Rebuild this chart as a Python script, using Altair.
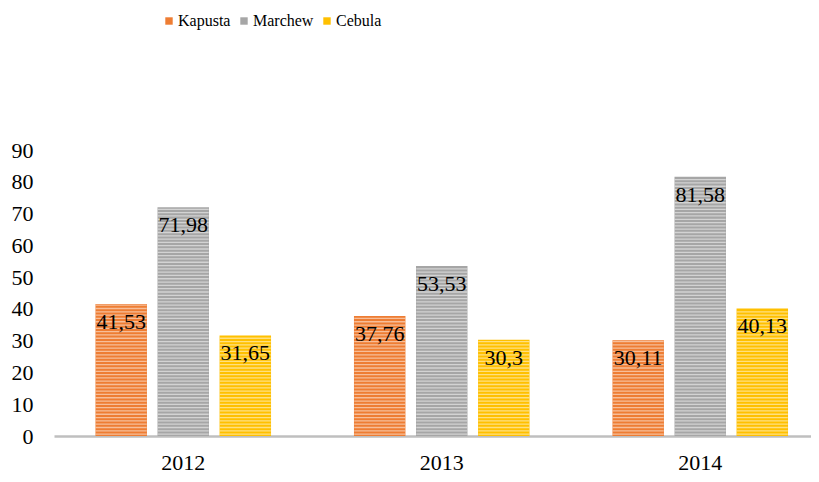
import altair as alt
import pandas as pd

years = ["2012", "2013", "2014"]
series = ["Kapusta", "Marchew", "Cebula"]
kapusta = [41.53, 37.76, 30.11]
marchew = [71.98, 53.53, 81.58]
cebula = [31.65, 30.3, 40.13]
y_ticks = [0, 10, 20, 30, 40, 50, 60, 70, 80, 90]
colors = ["#EE7D33", "#A6A6A6", "#FFC000"]

rows = []
for name, vals in zip(series, [kapusta, marchew, cebula]):
    for yr, v in zip(years, vals):
        rows.append({"year": yr, "series": name, "value": v,
                     "label": f"{v:g}".replace(".", ",")})
df = pd.DataFrame(rows)

# decorative horizontal stripe texture inside each bar
stripe_rows = []
for r in rows:
    k = 0.6
    while k < r["value"] - 0.3:
        stripe_rows.append({"year": r["year"], "series": r["series"], "s": k})
        k += 1.04
stripes = pd.DataFrame(stripe_rows)

FONT = "Liberation Serif"

x_axis = alt.Axis(labelAngle=0, ticks=False, labelPadding=16,
                  labelFontSize=22, labelFont=FONT, labelColor="black",
                  domainColor="#BFBFBF", domainWidth=2.5)
y_axis = alt.Axis(values=y_ticks, tickCount=10, ticks=False, domain=False, grid=False,
                  labelOverlap=False, labelPadding=21, labelFontSize=22,
                  labelFont=FONT, labelColor="black")
x_scale = alt.Scale(range=[0, 775.5], paddingInner=0.28, paddingOuter=0.14)
xo_scale = alt.Scale(paddingInner=0.17, paddingOuter=0.085)
y_scale = alt.Scale(domain=[0, 90], nice=False)


def X():
    return alt.X("year:N", sort=years, title=None, scale=x_scale, axis=x_axis)


def XO():
    return alt.XOffset("series:N", sort=series, scale=xo_scale)


bars = alt.Chart(df).mark_bar().encode(
    x=X(),
    xOffset=XO(),
    y=alt.Y("value:Q", scale=y_scale, title=None, axis=y_axis),
    color=alt.Color("series:N", sort=series,
                    scale=alt.Scale(domain=series, range=colors),
                    legend=alt.Legend(title=None, orient="none", direction="horizontal",
                                      legendX=107, legendY=-137,
                                      symbolType="square", symbolSize=55,
                                      symbolStrokeWidth=0,
                                      labelFont=FONT, labelFontSize=16,
                                      labelColor="black", labelOffset=1,
                                      columnPadding=5)),
)

tex = alt.Chart(stripes).mark_tick(color="white", opacity=0.5, thickness=1.3, size=51).encode(
    x=X(),
    xOffset=XO(),
    y=alt.Y("s:Q", scale=y_scale, title=None, axis=y_axis),
)

labels = alt.Chart(df).mark_text(baseline="middle", dy=18, fontSize=22, font=FONT,
                                 color="black").encode(
    x=X(),
    xOffset=XO(),
    y=alt.Y("value:Q", scale=y_scale, title=None, axis=y_axis),
    text="label:N",
)

chart = alt.layer(bars, tex, labels).properties(
    width=757, height=286,
    autosize=alt.AutoSizeParams(type="none"),
    padding={"left": 46, "top": 142, "right": 0, "bottom": 38},
).configure(
    background="white",
    font=FONT,
).configure_view(
    stroke=None,
).configure_legend(
    labelFont=FONT,
    labelFontSize=16,
)

chart.save("out.html", embed_options={"renderer": "svg", "actions": False})
